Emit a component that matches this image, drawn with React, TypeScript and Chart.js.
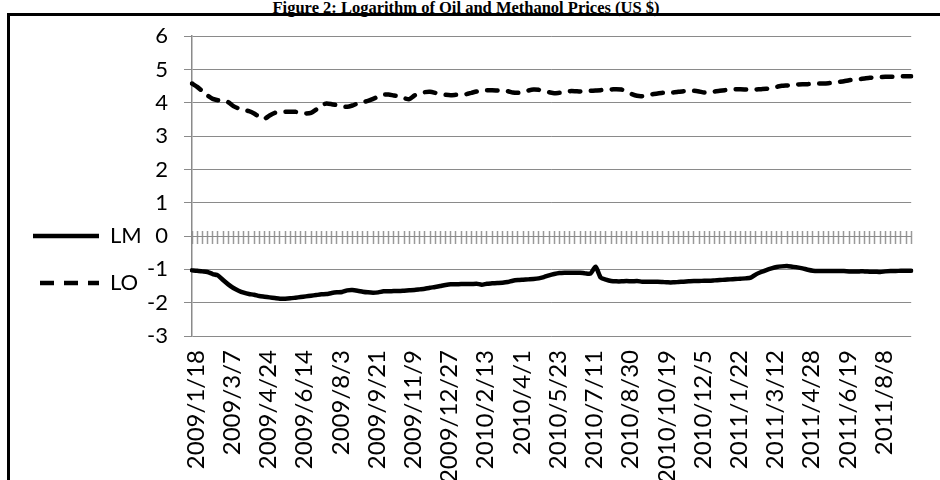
import React, { useEffect, useRef } from 'react';
import { Chart, registerables } from 'chart.js';

Chart.register(...registerables);

const TITLE = 'Figure 2: Logarithm of Oil and Methanol Prices (US $)';

const TICK_LABELS = [
  '2009/1/18', '2009/3/7', '2009/4/24', '2009/6/14', '2009/8/3', '2009/9/21', '2009/11/9',
  '2009/12/27', '2010/2/13', '2010/4/1', '2010/5/23', '2010/7/11', '2010/8/30', '2010/10/19',
  '2010/12/5', '2011/1/22', '2011/3/12', '2011/4/28', '2011/6/19', '2011/8/8',
];
const LABEL_EVERY = 7;

const LM = [
  -1.03, -1.04, -1.06, -1.08, -1.14, -1.18, -1.32, -1.45, -1.56, -1.64,
  -1.70, -1.74, -1.76, -1.80, -1.82, -1.84, -1.86, -1.88, -1.88, -1.87,
  -1.85, -1.83, -1.81, -1.79, -1.77, -1.75, -1.74, -1.71, -1.69, -1.68,
  -1.63, -1.62, -1.64, -1.67, -1.69, -1.70, -1.69, -1.66, -1.66, -1.65,
  -1.65, -1.64, -1.63, -1.62, -1.60, -1.58, -1.55, -1.53, -1.50, -1.47,
  -1.45, -1.45, -1.44, -1.44, -1.44, -1.43, -1.46, -1.43, -1.42, -1.41,
  -1.40, -1.38, -1.34, -1.32, -1.31, -1.30, -1.29, -1.27, -1.23, -1.18,
  -1.14, -1.11, -1.10, -1.10, -1.10, -1.10, -1.12, -1.13, -0.92, -1.25,
  -1.31, -1.35, -1.36, -1.36, -1.35, -1.36, -1.35, -1.37, -1.37, -1.37,
  -1.37, -1.38, -1.39, -1.39, -1.38, -1.37, -1.36, -1.35, -1.35, -1.34,
  -1.34, -1.33, -1.32, -1.31, -1.30, -1.29, -1.28, -1.27, -1.25, -1.15,
  -1.08, -1.02, -0.97, -0.93, -0.91, -0.90, -0.92, -0.94, -0.97, -1.01,
  -1.04, -1.05, -1.05, -1.05, -1.05, -1.05, -1.05, -1.06, -1.06, -1.06,
  -1.06, -1.07, -1.07, -1.08, -1.06, -1.05, -1.05, -1.04, -1.04, -1.04,
];

const LO = [
  4.58, 4.48, 4.35, 4.22, 4.12, 4.08, 4.07, 4.02, 3.90, 3.83,
  3.78, 3.75, 3.68, 3.58, 3.52, 3.62, 3.70, 3.72, 3.73, 3.73,
  3.73, 3.70, 3.68, 3.70, 3.80, 3.93, 3.98, 3.96, 3.93, 3.90,
  3.88, 3.92, 3.98, 4.02, 4.06, 4.12, 4.18, 4.24, 4.25, 4.22,
  4.20, 4.14, 4.11, 4.22, 4.28, 4.32, 4.33, 4.30, 4.26, 4.24,
  4.23, 4.24, 4.25, 4.26, 4.30, 4.34, 4.37, 4.38, 4.38, 4.37,
  4.36, 4.35, 4.31, 4.30, 4.32, 4.37, 4.40, 4.39, 4.35, 4.32,
  4.29, 4.30, 4.31, 4.35, 4.35, 4.34, 4.35, 4.36, 4.37, 4.38,
  4.40, 4.40, 4.41, 4.40, 4.33, 4.26, 4.21, 4.20, 4.23, 4.26,
  4.28, 4.30, 4.31, 4.31, 4.33, 4.35, 4.36, 4.36, 4.34, 4.31,
  4.31, 4.34, 4.36, 4.38, 4.40, 4.41, 4.41, 4.40, 4.39, 4.40,
  4.41, 4.42, 4.45, 4.48, 4.51, 4.52, 4.53, 4.55, 4.56, 4.56,
  4.57, 4.58, 4.58, 4.59, 4.61, 4.63, 4.65, 4.68, 4.70, 4.71,
  4.73, 4.75, 4.76, 4.77, 4.78, 4.78, 4.78, 4.79, 4.80, 4.80,
];

const Y_MIN = -3;
const Y_MAX = 6;
const Y_STEP = 1;

const FONT = 'Lato, "Open Sans", sans-serif';
const GRID = '#8a8a8a';

export default function App() {
  const ref = useRef<HTMLCanvasElement | null>(null);

  useEffect(() => {
    if (!ref.current) return;
    const categories = LM.map((_, i) => String(i));
    const chart = new Chart(ref.current, {
      type: 'line',
      data: {
        labels: categories,
        datasets: [
          {
            label: 'LM',
            data: LM,
            borderColor: '#000',
            backgroundColor: '#000',
            borderWidth: 4.5,
            borderCapStyle: 'round',
            borderJoinStyle: 'round',
            pointRadius: 0,
            pointStyle: 'line',
            tension: 0.2,
            xAxisID: 'x',
            yAxisID: 'y',
          },
          {
            label: 'LO',
            data: LO,
            borderColor: '#000',
            backgroundColor: '#000',
            borderWidth: 4.5,
            borderDash: [10.5, 10.5],
            borderCapStyle: 'round',
            borderJoinStyle: 'round',
            pointRadius: 0,
            pointStyle: 'line',
            tension: 0.2,
            xAxisID: 'x',
            yAxisID: 'y',
          },
        ],
      },
      options: {
        animation: false,
        responsive: false,
        devicePixelRatio: 1,
        layout: { padding: { top: 0, right: 0, bottom: 0, left: 0 } },
        plugins: {
          tooltip: { enabled: false },
          legend: {
            position: 'left',
            align: 'center',
            maxWidth: 134,
            labels: {
              usePointStyle: true,
              pointStyleWidth: 66,
              boxHeight: 22,
              padding: 25,
              color: '#000',
              font: { family: FONT, size: 22 },
              generateLabels: (c: any) => {
                const items = Chart.defaults.plugins.legend.labels.generateLabels(c);
                return items.map((it: any, i: number) =>
                  i === 1 ? { ...it, lineDash: [14, 10], lineDashOffset: 17 } : it
                );
              },
            },
          },
        },
        scales: {
          x: {
            type: 'category',
            position: 'bottom',
            grid: { display: false, drawTicks: false },
            border: { display: false },
            afterFit: (s: any) => { s.height = 176; },
            ticks: {
              autoSkip: false,
              minRotation: 90,
              maxRotation: 90,
              padding: 14,
              labelOffset: 4,
              color: '#000',
              font: { family: FONT, size: 24 },
              callback: (_v: any, i: number) =>
                i % LABEL_EVERY === 0 ? TICK_LABELS[i / LABEL_EVERY] ?? '' : '',
            },
          },
          x0: {
            type: 'category',
            axis: 'x',
            position: { y: 0.15 },
            grid: {
              display: true,
              drawOnChartArea: false,
              drawTicks: true,
              tickLength: 13,
              tickColor: '#9a9a9a',
              tickWidth: 1.5,
            },
            border: { display: false },
            ticks: { display: false, autoSkip: false },
          },
          y: {
            type: 'linear',
            min: Y_MIN,
            max: Y_MAX,
            afterFit: (s: any) => { s.width = 50; },
            ticks: {
              stepSize: Y_STEP,
              color: '#000',
              padding: 16,
              font: { family: FONT, size: 22 },
            },
            grid: { color: GRID, lineWidth: 1, tickLength: 8 },
            border: { color: GRID, width: 1.5 },
          },
        },
      },
    } as any);
    return () => chart.destroy();
  }, []);

  return (
    <div style={{ position: 'absolute', left: 0, top: 0, width: 940, height: 480, overflow: 'hidden', background: '#fff' }}>
      <div
        style={{
          position: 'absolute',
          left: 0,
          top: -2,
          width: 932,
          textAlign: 'center',
          fontFamily: '"Liberation Serif", "Times New Roman", serif',
          fontWeight: 'bold',
          fontSize: 16.5,
          lineHeight: '20px',
          whiteSpace: 'nowrap',
        }}
      >
        {TITLE}
      </div>
      <canvas
        ref={ref}
        width={946}
        height={505}
        style={{ position: 'absolute', left: 8, top: 7, width: 946, height: 505 }}
      />
      <div
        style={{
          position: 'absolute',
          left: 7,
          top: 13,
          width: 1000,
          height: 600,
          borderTop: '3px solid #000',
          borderLeft: '3px solid #000',
          boxSizing: 'border-box',
          pointerEvents: 'none',
        }}
      />
    </div>
  );
}
